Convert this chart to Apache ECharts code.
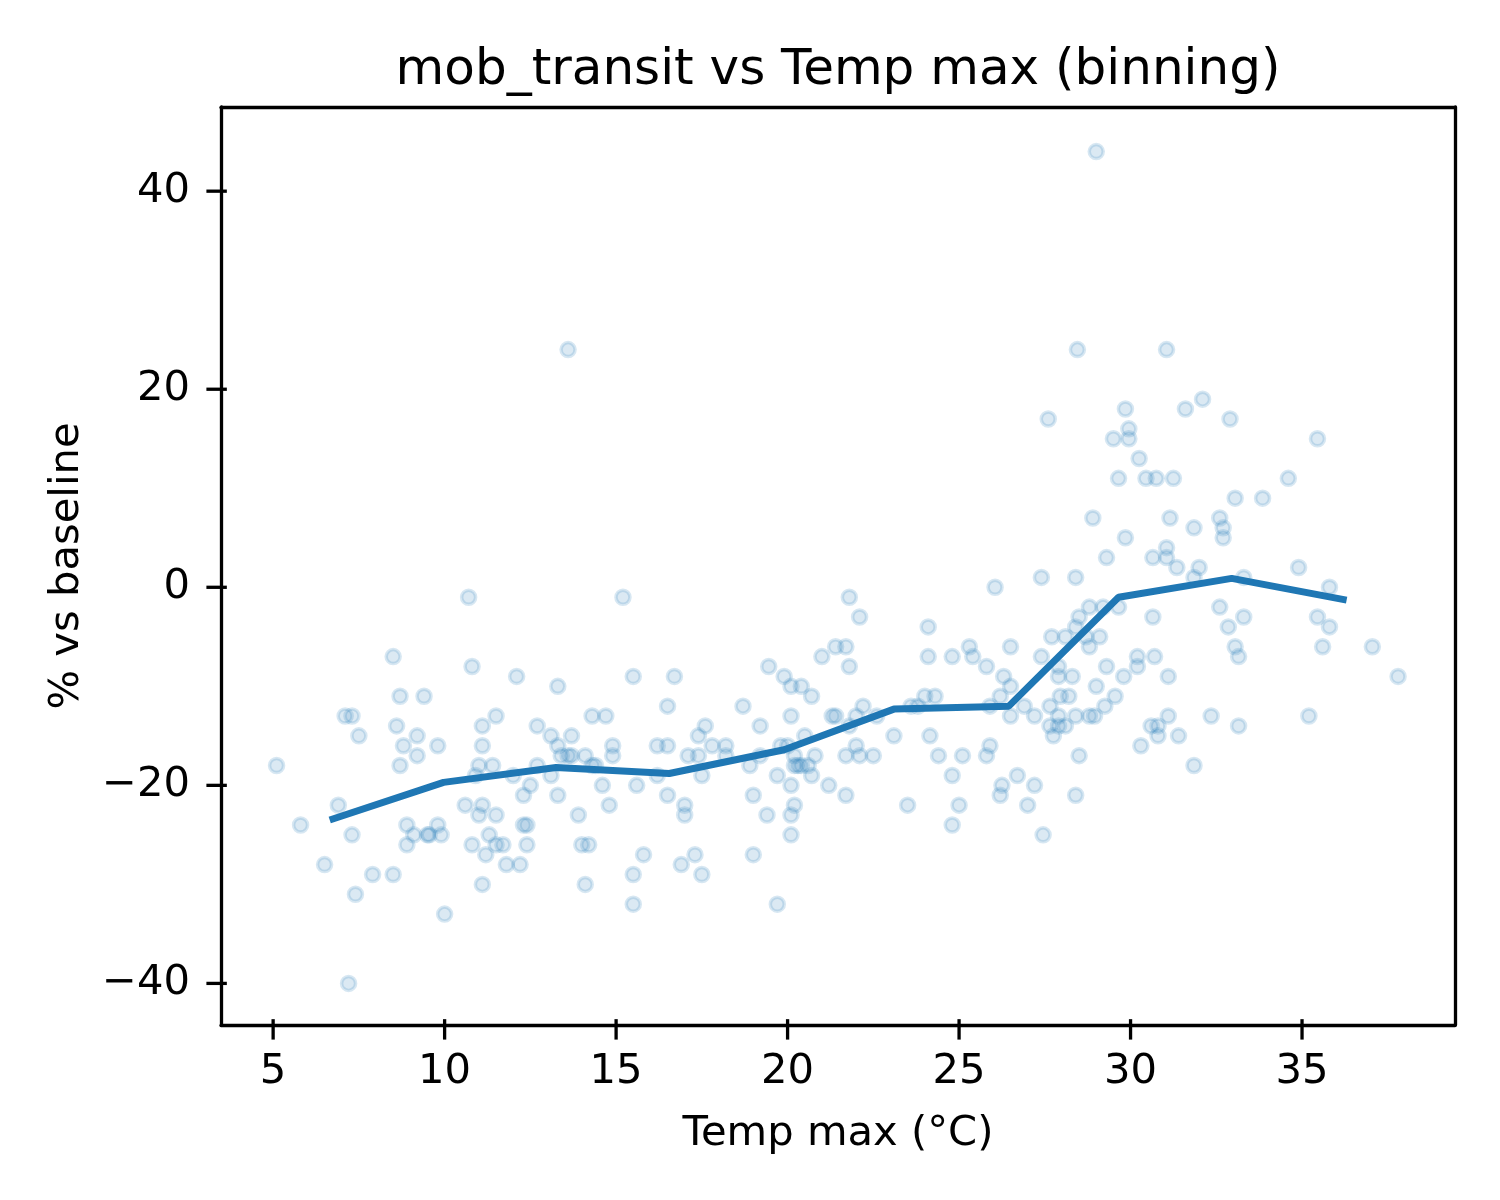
<!DOCTYPE html>
<html>
<head>
<meta charset="utf-8">
<title>mob_transit vs Temp max (binning)</title>
<script src="https://cdn.jsdelivr.net/npm/echarts@6/dist/echarts.min.js"></script>
<style>
  html, body { margin: 0; padding: 0; background: #fff; }
  #main { width: 1500px; height: 1200px; }
</style>
</head>
<body>
<div id="main"></div>
<script>
// daily points: max temperature (°C) and transit mobility (% vs baseline)
var tempMax = [
  10.7, 8.5, 10.8, 12.1, 8.7, 9.4, 7.1, 7.3, 8.6, 11.1, 11.5, 12.7, 7.5, 9.2, 8.8, 9.8, 11.1, 5.1, 8.7, 9.2,
  11.0, 11.4, 10.9, 12.0, 12.7, 12.5, 12.3, 6.9, 10.6, 11.1, 11.0, 11.5, 5.8, 8.9, 9.8, 12.3, 12.4, 7.3, 9.1, 9.5,
  9.55, 9.9, 11.3, 8.9, 10.8, 11.5, 11.7, 12.4, 11.2, 6.5, 11.8, 12.2, 7.9, 8.5, 11.1, 7.4, 10.0, 7.2,
  15.2, 21.4, 21.7, 21.0, 21.8, 19.45, 15.5, 16.7, 19.9, 13.3, 20.1, 20.4, 20.7, 16.5, 18.7, 14.3, 14.7, 20.1, 21.3, 21.4,
  17.6, 19.2, 13.1, 13.7, 17.4, 20.5, 13.3, 14.9, 16.2, 16.5, 17.8, 18.2, 19.8, 20.0, 13.4, 13.6, 13.7, 14.1, 14.9, 17.1,
  17.4, 18.2, 19.2, 20.2, 20.8, 21.7, 14.3, 14.4, 18.9, 20.2, 20.3, 20.4, 20.6, 13.1, 16.2, 17.5, 19.7, 20.7, 14.6, 15.6,
  20.1, 21.2, 13.3, 16.5, 19.0, 21.7, 14.8, 17.0, 20.2, 13.9, 17.0, 19.4, 20.1, 20.1, 14.0, 14.2, 15.8, 17.3, 19.0, 16.9,
  15.5, 17.5, 14.1, 15.5, 19.7,
  27.4, 28.4, 26.05, 21.8, 22.1, 24.1, 24.1, 24.8, 25.3, 25.4, 26.5, 27.4, 27.7, 28.1, 28.4, 28.5, 25.8, 26.3, 27.9, 27.9,
  28.3, 26.5, 26.2, 24.0, 24.3, 27.95, 28.2, 22.2, 23.6, 23.8, 25.9, 26.9, 27.65, 22.0, 22.6, 26.5, 27.2, 27.9, 27.9, 28.4,
  21.8, 27.65, 28.1, 27.75, 23.1, 24.15, 22.0, 25.9, 22.1, 22.5, 24.4, 25.1, 25.8, 28.5, 24.8, 26.25, 26.2, 26.7, 27.2, 28.4,
  23.5, 25.0, 27.0, 24.8, 27.45,
  28.8, 29.2, 29.65, 30.65, 28.7, 29.1, 28.8, 30.2, 30.2, 30.7, 29.3, 29.8, 31.1, 29.0, 29.55, 29.25, 28.8, 28.95, 31.1, 30.6,
  30.8, 30.8, 31.4, 30.3, 31.85,
  28.45, 31.05, 29.85, 32.1, 31.6, 32.9, 29.95, 29.5, 29.95, 30.25, 29.65, 30.45, 30.75, 31.25, 34.6, 33.05, 33.85, 28.9, 31.15, 32.6,
  32.7, 32.7, 31.85, 29.85, 29.3, 30.65, 31.05, 31.05, 31.35, 32.0, 34.9,
  35.45, 31.85, 33.3, 35.8, 32.6, 33.3, 32.85, 33.05, 33.15, 35.45, 35.8, 35.6, 37.05, 32.35, 33.15, 35.2,
  13.6, 29.0, 27.6, 37.8
];
var mobTransit = [
  -1, -7, -8, -9, -11, -11, -13, -13, -14, -14, -13, -14, -15, -15, -16, -16, -16, -18, -18, -17,
  -18, -18, -19, -19, -18, -20, -21, -22, -22, -22, -23, -23, -24, -24, -24, -24, -24, -25, -25, -25,
  -25, -25, -25, -26, -26, -26, -26, -26, -27, -28, -28, -28, -29, -29, -30, -31, -33, -40,
  -1, -6, -6, -7, -8, -8, -9, -9, -9, -10, -10, -10, -11, -12, -12, -13, -13, -13, -13, -13,
  -14, -14, -15, -15, -15, -15, -16, -16, -16, -16, -16, -16, -16, -16, -17, -17, -17, -17, -17, -17,
  -17, -17, -17, -17, -17, -17, -18, -18, -18, -18, -18, -18, -18, -19, -19, -19, -19, -19, -20, -20,
  -20, -20, -21, -21, -21, -21, -22, -22, -22, -23, -23, -23, -23, -25, -26, -26, -27, -27, -27, -28,
  -29, -29, -30, -32, -32,
  1, 1, 0, -1, -3, -4, -7, -7, -6, -7, -6, -7, -5, -5, -4, -3, -8, -9, -8, -9,
  -9, -10, -11, -11, -11, -11, -11, -12, -12, -12, -12, -12, -12, -13, -13, -13, -13, -13, -14, -13,
  -14, -14, -14, -15, -15, -15, -16, -16, -17, -17, -17, -17, -17, -17, -19, -20, -21, -19, -20, -21,
  -22, -22, -22, -24, -25,
  -2, -2, -2, -3, -5, -5, -6, -7, -8, -7, -8, -9, -9, -10, -11, -12, -13, -13, -13, -14,
  -14, -15, -15, -16, -18,
  24, 24, 18, 19, 18, 17, 16, 15, 15, 13, 11, 11, 11, 11, 11, 9, 9, 7, 7, 7,
  6, 5, 6, 5, 3, 3, 4, 3, 2, 2, 2,
  15, 1, 1, 0, -2, -3, -4, -6, -7, -3, -4, -6, -6, -13, -14, -13,
  24, 44, 17, -9
];

// binned means (10 equal-width temperature bins)
var binCenters = [6.65, 9.97, 13.25, 16.55, 19.9, 23.1, 26.45, 29.65, 32.95, 36.3];
var binMeans = [-23.5, -19.7, -18.2, -18.8, -16.4, -12.3, -12.0, -1.0, 0.9, -1.3];

var xTicks = [5, 10, 15, 20, 25, 30, 35];
var yTicks = [-40, -20, 0, 20, 40];

var points = tempMax.map(function (t, i) { return [t, mobTransit[i]]; });
var binLine = binCenters.map(function (c, i) { return [c, binMeans[i]]; });

var myChart = echarts.init(document.getElementById('main'));
var font = 'DejaVu Sans';
var blue = '#1f77b4';
var penWidth = 3.3;
var tickLen = 14.6;
var xRange = { min: 3.48, max: 39.46 };
var yRange = { min: -44.2, max: 48.5 };

// bare axis used only to close the frame on the top / right side
function frameAxis(range, position) {
    return {
        type: 'value', position: position, min: range.min, max: range.max,
        axisLine: { show: true, onZero: false, lineStyle: { color: '#000', width: penWidth } },
        axisTick: { show: false }, axisLabel: { show: false }, splitLine: { show: false }
    };
}

// tick marks as small black bars straddling the frame, mostly outward
function tickSeries(values, horizontal) {
    var len = tickLen * 1.4;
    var shift = tickLen * 0.3;
    return {
        type: 'scatter',
        clip: false,
        silent: true,
        z: 10,
        symbol: 'rect',
        symbolSize: horizontal ? [penWidth, len] : [len, penWidth],
        symbolOffset: horizontal ? [0, shift] : [-shift, 0],
        itemStyle: { color: '#000', opacity: 1 },
        data: values.map(function (v) {
            return horizontal ? [v, yRange.min] : [xRange.min, v];
        })
    };
}

myChart.setOption({
    animation: false,
    title: {
        text: 'mob_transit vs Temp max (binning)',
        left: 833,
        top: 41,
        textAlign: 'center',
        textStyle: { fontFamily: font, fontSize: 50, fontWeight: 'normal', color: '#000' }
    },
    grid: { left: 221, right: 45, top: 107, bottom: 175 },
    xAxis: [{
        type: 'value',
        position: 'bottom',
        min: xRange.min,
        max: xRange.max,
        name: 'Temp max (°C)',
        nameLocation: 'middle',
        nameGap: 88,
        nameTextStyle: { fontFamily: font, fontSize: 41.7, color: '#000' },
        axisLine: { show: true, onZero: false, lineStyle: { color: '#000', width: penWidth } },
        axisTick: { show: false },
        axisLabel: { customValues: xTicks, margin: 26, fontFamily: font, fontSize: 41.7, color: '#000' },
        splitLine: { show: false }
    }, frameAxis(xRange, 'top')],
    yAxis: [{
        type: 'value',
        position: 'left',
        min: yRange.min,
        max: yRange.max,
        name: '% vs baseline',
        nameLocation: 'middle',
        nameGap: 133,
        nameTextStyle: { fontFamily: font, fontSize: 41.7, color: '#000' },
        axisLine: { show: true, onZero: false, lineStyle: { color: '#000', width: penWidth } },
        axisTick: { show: false },
        axisLabel: {
            customValues: yTicks, margin: 31, fontFamily: font, fontSize: 41.7, color: '#000',
            formatter: function (v) { return v < 0 ? '\u2212' + Math.abs(v) : String(v); }
        },
        splitLine: { show: false }
    }, frameAxis(yRange, 'right')],
    series: [
        {
            type: 'scatter',
            data: points,
            symbol: 'circle',
            symbolSize: 14,
            itemStyle: {
                color: 'rgba(31,119,180,0.2)',
                borderColor: 'rgba(31,119,180,0.22)',
                borderWidth: 3.5
            },
            z: 2
        },
        {
            type: 'line',
            data: binLine,
            showSymbol: false,
            lineStyle: { color: blue, width: 7 },
            z: 3
        },
        tickSeries(xTicks, true),
        tickSeries(yTicks, false)
    ]
});
</script>
</body>
</html>
